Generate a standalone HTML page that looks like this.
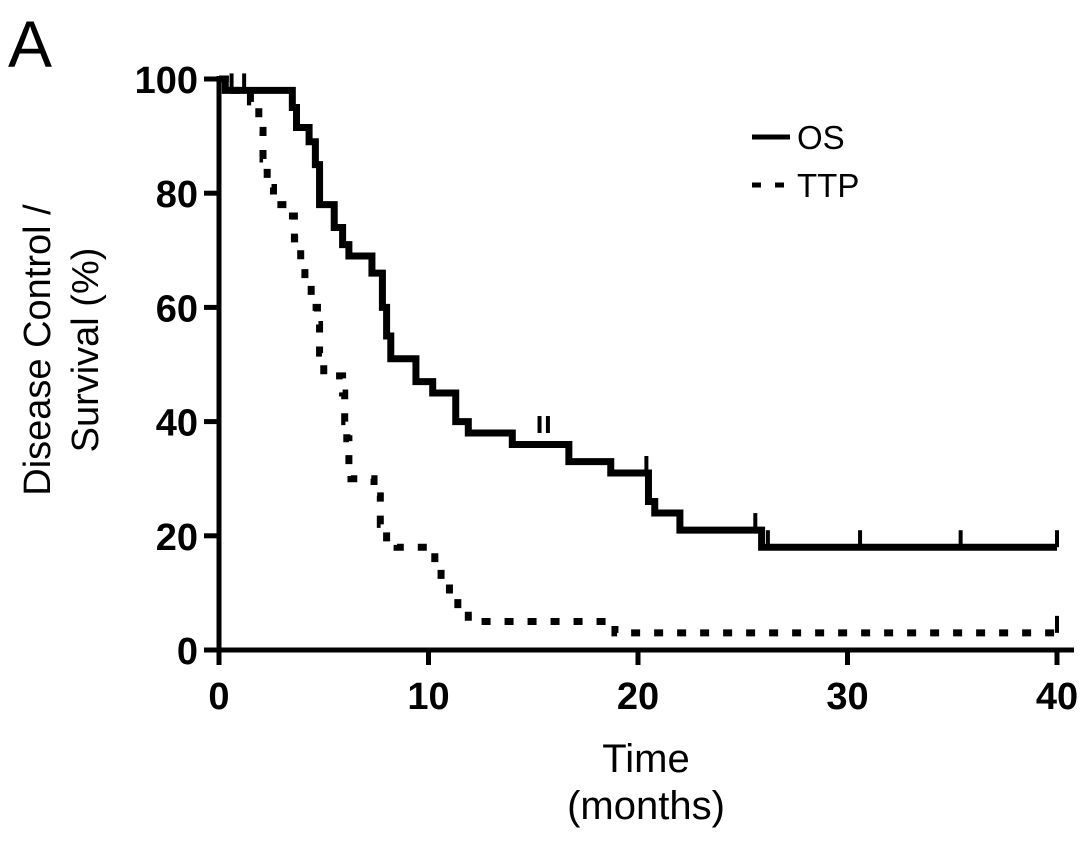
<!DOCTYPE html>
<html><head><meta charset="utf-8"><style>
html,body{margin:0;padding:0;background:#fff;}
svg{display:block;font-family:"Liberation Sans",sans-serif;}
</style></head><body>
<svg id="chart" width="1087" height="841" viewBox="0 0 1087 841">
<text x="8" y="67" font-size="66">A</text>
<g id="axes"></g>
<g id="series"></g>
<g>
<line x1="752" y1="137" x2="790" y2="137" stroke="#000" stroke-width="5"/>
<text x="797" y="149" font-size="33">OS</text>
<line x1="752" y1="185" x2="790" y2="185" stroke="#000" stroke-width="5" stroke-dasharray="9 14"/>
<text x="797" y="197" font-size="33">TTP</text>
</g>
<text x="646" y="772" font-size="40" text-anchor="middle">Time</text>
<text x="646" y="819" font-size="40" text-anchor="middle">(months)</text>
<g transform="translate(50,350) rotate(-90)">
<text x="0" y="0" font-size="38" text-anchor="middle">Disease Control /</text>
<text x="0" y="48" font-size="38" text-anchor="middle">Survival (%)</text>
</g>
</svg>
<script>
const xTicks=[0,10,20,30,40];
const yTicks=[0,20,40,60,80,100];
const osTimes=[0,0.3,3.5,3.7,4.3,4.6,4.8,5.5,5.9,6.2,7.3,7.8,8.0,8.2,9.4,10.2,11.3,11.9,14.0,16.7,18.7,20.5,20.8,22.0,25.9,40];
const osVals=[100,98,95,91.5,89,85,78,74,71,69,66,60,55,51,47,45,40,38,36,33,31,26,24,21,18,18];
const osCensorT=[0.6,15.3,15.7,20.4,25.6,26.2,30.6,35.4,40];
const osCensorV=[98,38,38,31,21,18,18,18,18];
const ttpTimes=[0,0.3,1.5,1.9,2.1,2.3,2.6,3.3,3.6,3.9,4.1,4.4,4.7,4.8,5.0,5.9,6.0,6.1,6.2,6.3,7.4,7.7,8.0,8.5,10.3,10.6,11.0,11.4,11.9,18.9,40];
const ttpVals=[100,98,96,91,86,81,78,76,72,67,64,60,57,52,48,45,40,37,32,30,27,22,19,18,16,12,9,7,5,3,3];
const ttpCensorT=[1.2,40];
const ttpCensorV=[98,3];
const X=t=>219+t*20.95, Y=v=>650-v*5.71;
const NS='http://www.w3.org/2000/svg';
function mk(tag,attrs,parent){const e=document.createElementNS(NS,tag);for(const k in attrs)e.setAttribute(k,attrs[k]);parent.appendChild(e);return e;}
const ax=document.getElementById('axes'), se=document.getElementById('series');
let l=mk('line',{x1:219,y1:76,x2:219,y2:653,stroke:'#000','stroke-width':5},ax);


l=mk('line',{x1:216,y1:650,x2:1074,y2:650,stroke:'#000','stroke-width':5},ax);


xTicks.forEach(t=>{
 const tk=mk('line',{x1:X(t),y1:650,x2:X(t),y2:665,stroke:'#000','stroke-width':5},ax);
 
 
 const tx=mk('text',{x:X(t),y:709,'font-size':38,'font-weight':'bold','text-anchor':'middle'},ax);tx.textContent=t;
 
 
});
yTicks.forEach(v=>{
 const tk=mk('line',{x1:204,y1:Y(v),x2:219,y2:Y(v),stroke:'#000','stroke-width':5},ax);
 
 
 const tx=mk('text',{x:198,y:Y(v)+14,'font-size':38,'font-weight':'bold','text-anchor':'end'},ax);tx.textContent=v;
 
 
});
function stepPath(ts,vs){let d='M'+X(ts[0])+','+Y(vs[0]);for(let i=1;i<ts.length;i++){d+=' H'+X(ts[i])+' V'+Y(vs[i]);}return d;}
let p=mk('path',{d:stepPath(osTimes,osVals),fill:'none',stroke:'#000','stroke-width':7},se);


p=mk('path',{d:stepPath(ttpTimes,ttpVals),fill:'none',stroke:'#000','stroke-width':7,'stroke-dasharray':'9 14'},se);


osCensorT.forEach((t,i)=>{
 const c=mk('line',{x1:X(t),y1:Y(osCensorV[i])-17,x2:X(t),y2:Y(osCensorV[i]),stroke:'#000','stroke-width':4},se);
 
 
});
ttpCensorT.forEach((t,i)=>{
 const c=mk('line',{x1:X(t),y1:Y(ttpCensorV[i])-17,x2:X(t),y2:Y(ttpCensorV[i]),stroke:'#000','stroke-width':4},se);
 
 
});
</script>
</body></html>
